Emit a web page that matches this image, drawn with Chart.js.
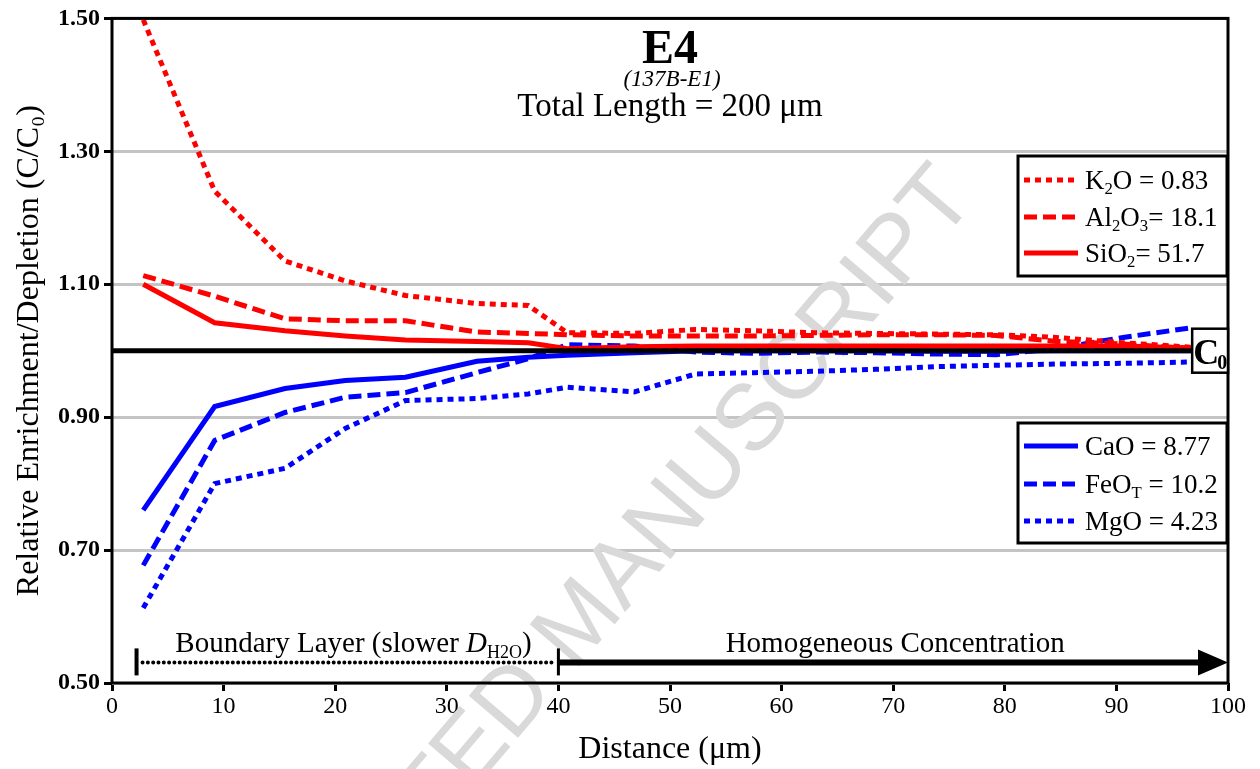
<!DOCTYPE html>
<html><head><meta charset="utf-8">
<script src="https://cdn.jsdelivr.net/npm/chart.js@4.4.0/dist/chart.umd.min.js"></script>
<style>html,body{margin:0;padding:0;background:#fff;}#wrap{position:relative;width:1260px;height:769px;}</style>
</head><body><div id="wrap"><canvas id="c" width="1260" height="769"></canvas></div>
<script>
// ---- data ----
const distance = [2.8, 9.2, 15.5, 20.9, 26.3, 32.7, 37.3, 40.8, 46.8, 52.3, 57.6, 63.0, 68.4, 73.8, 79.2, 84.6, 90.6, 96.9];
const k2o   = [1.498, 1.240, 1.135, 1.105, 1.083, 1.071, 1.068, 1.027, 1.026, 1.032, 1.030, 1.027, 1.026, 1.025, 1.024, 1.020, 1.012, 1.005];
const al2o3 = [1.113, 1.082, 1.048, 1.045, 1.045, 1.028, 1.026, 1.024, 1.022, 1.022, 1.022, 1.023, 1.024, 1.024, 1.023, 1.014, 1.010, 1.003];
const sio2  = [1.100, 1.042, 1.030, 1.022, 1.016, 1.014, 1.012, 1.003, 1.006, 1.007, 1.007, 1.007, 1.007, 1.007, 1.007, 1.007, 1.007, 1.004];
const cao   = [0.760, 0.916, 0.943, 0.955, 0.960, 0.984, 0.990, 0.993, 0.997, 1.000, 1.000, 1.000, 1.000, 0.999, 0.999, 1.000, 1.000, 1.000];
const feot  = [0.677, 0.865, 0.907, 0.930, 0.937, 0.967, 0.988, 1.009, 1.007, 0.998, 0.996, 0.998, 0.997, 0.995, 0.994, 1.003, 1.020, 1.035];
const mgo   = [0.613, 0.800, 0.823, 0.883, 0.925, 0.928, 0.935, 0.945, 0.938, 0.965, 0.967, 0.969, 0.972, 0.976, 0.978, 0.980, 0.981, 0.983];
const c0Distance = [0, 96.7];
const c0Value = [1.0, 1.0];
const yTicks = [0.50, 0.70, 0.90, 1.10, 1.30, 1.50];
const legendTop = [
  {name:'K2O', runs:[{t:'K'},{t:'2',sub:true},{t:'O = 0.83'}], color:'#ff0000', dash:[6,5]},
  {name:'Al2O3', runs:[{t:'Al'},{t:'2',sub:true},{t:'O'},{t:'3',sub:true},{t:'= 18.1'}], color:'#ff0000', dash:[13,6]},
  {name:'SiO2', runs:[{t:'SiO'},{t:'2',sub:true},{t:'= 51.7'}], color:'#ff0000', dash:[]}
];
const legendBottom = [
  {name:'CaO', runs:[{t:'CaO = 8.77'}], color:'#0000ff', dash:[]},
  {name:'FeOT', runs:[{t:'FeO'},{t:'T',sub:true},{t:' = 10.2'}], color:'#0000ff', dash:[13,6]},
  {name:'MgO', runs:[{t:'MgO = 4.23'}], color:'#0000ff', dash:[6,5]}
];
// boundary annotation positions (data units)
const boundaryStart = 2.2, boundaryEnd = 40, homogEnd = 100, annotY = 0.531;

const SERIF = '"Liberation Serif", "Times New Roman", serif';
const pts = arr => distance.map((x, i) => ({x, y: arr[i]}));

function runsWidth(ctx, runs, size, base) {
  let w = 0;
  for (const r of runs) {
    const fs = r.sub ? size * 0.62 : size;
    ctx.font = `${r.italic ? 'italic ' : ''}${base}${fs}px ${SERIF}`;
    w += ctx.measureText(r.t).width;
  }
  return w;
}
function drawRuns(ctx, x, y, runs, size, base) {
  ctx.textAlign = 'left'; ctx.textBaseline = 'alphabetic';
  let cx = x;
  for (const r of runs) {
    const fs = r.sub ? size * 0.62 : size;
    ctx.font = `${r.italic ? 'italic ' : ''}${base}${fs}px ${SERIF}`;
    ctx.fillText(r.t, cx, y + (r.sub ? size * 0.2 : 0));
    cx += ctx.measureText(r.t).width;
  }
  return cx;
}

const decor = {
  id: 'decor',
  beforeDatasetsDraw(chart) {
    const ctx = chart.ctx;
    // watermark
    ctx.save();
    ctx.fillStyle = '#d9d9d9';
    ctx.font = '94px "Liberation Sans", Arial, sans-serif';
    ctx.translate(574, 672);
    ctx.rotate(-49.5 * Math.PI / 180);
    const pre = 'ACCEPTED ';
    ctx.textAlign = 'left'; ctx.textBaseline = 'alphabetic';
    ctx.fillText(pre + 'MANUSCRIPT', -ctx.measureText(pre).width, 0);
    ctx.restore();
  },
  afterDatasetsDraw(chart) {
    const ctx = chart.ctx;
    const a = chart.chartArea;
    const xs = chart.scales.x, ys = chart.scales.y;
    ctx.save();
    // plot frame
    ctx.strokeStyle = '#000'; ctx.lineWidth = 3;
    ctx.strokeRect(a.left, a.top, a.right - a.left, a.bottom - a.top);

    // titles
    ctx.fillStyle = '#000';
    const cx = (a.left + a.right) / 2;
    ctx.textAlign = 'center'; ctx.textBaseline = 'alphabetic';
    ctx.font = `bold 48px ${SERIF}`;
    ctx.fillText('E4', cx, 63);
    ctx.font = `italic 23px ${SERIF}`;
    ctx.fillText('(137B-E1)', cx + 2, 86);
    ctx.font = `33px ${SERIF}`;
    ctx.fillText('Total Length = 200 \u03bcm', cx, 116);

    // legends
    const drawLegend = (items, box, rowsY) => {
      ctx.fillStyle = '#fff';
      ctx.fillRect(box[0], box[1], box[2] - box[0], box[3] - box[1]);
      ctx.strokeStyle = '#000'; ctx.lineWidth = 3; ctx.setLineDash([]);
      ctx.strokeRect(box[0], box[1], box[2] - box[0], box[3] - box[1]);
      items.forEach((it, i) => {
        const y = rowsY[i];
        ctx.strokeStyle = it.color; ctx.lineWidth = 5; ctx.setLineDash(it.dash);
        ctx.beginPath(); ctx.moveTo(box[0] + 6, y); ctx.lineTo(box[0] + 60, y); ctx.stroke();
        ctx.setLineDash([]);
        ctx.fillStyle = '#000';
        drawRuns(ctx, box[0] + 67, y + 9, it.runs, 27, '');
      });
    };
    drawLegend(legendTop, [1018, 156, 1227, 276], [180, 217, 253]);
    drawLegend(legendBottom, [1018, 423, 1227, 543], [446, 484, 521]);

    // C0 box
    ctx.fillStyle = '#fff';
    const bx = xs.getPixelForValue(c0Distance[1]) + 1, by = ys.getPixelForValue(1.0);
    ctx.fillRect(bx, by - 22, a.right - bx, 44);
    ctx.strokeStyle = '#000'; ctx.lineWidth = 2.5;
    ctx.strokeRect(bx, by - 22, a.right - bx, 44);
    ctx.fillStyle = '#000';
    ctx.font = `bold 36px ${SERIF}`;
    ctx.textAlign = 'left';
    ctx.fillText('C', bx + 1, by + 13);
    const cw = ctx.measureText('C').width;
    ctx.font = `bold 20px ${SERIF}`;
    ctx.fillText('0', bx + cw - 1, by + 18);

    // boundary layer annotation
    const x0 = xs.getPixelForValue(boundaryStart), x1 = xs.getPixelForValue(boundaryEnd), x2 = xs.getPixelForValue(homogEnd);
    const yA = ys.getPixelForValue(annotY);
    ctx.strokeStyle = '#000';
    ctx.lineWidth = 4; ctx.lineCap = 'round'; ctx.setLineDash([0.01, 5.3]);
    ctx.beginPath(); ctx.moveTo(x0 + 6, yA); ctx.lineTo(x1 - 3, yA); ctx.stroke();
    ctx.setLineDash([]); ctx.lineCap = 'butt';
    ctx.lineWidth = 4;
    ctx.beginPath(); ctx.moveTo(x0, yA - 14); ctx.lineTo(x0, yA + 13); ctx.stroke();
    ctx.lineWidth = 3;
    ctx.beginPath(); ctx.moveTo(x1, yA - 14); ctx.lineTo(x1, yA + 13); ctx.stroke();
    ctx.lineWidth = 6;
    ctx.beginPath(); ctx.moveTo(x1, yA); ctx.lineTo(x2 - 24, yA); ctx.stroke();
    ctx.fillStyle = '#000';
    ctx.beginPath(); ctx.moveTo(x2, yA); ctx.lineTo(x2 - 30, yA - 13); ctx.lineTo(x2 - 30, yA + 13); ctx.closePath(); ctx.fill();

    const blRuns = [{t:'Boundary Layer (slower '},{t:'D',italic:true},{t:'H2O',sub:true},{t:')'}];
    const wBL = runsWidth(ctx, blRuns, 29, '');
    drawRuns(ctx, (x0 + x1) / 2 - wBL / 2 + 6, yA - 10, blRuns, 29, '');
    ctx.font = `29px ${SERIF}`; ctx.textAlign = 'center';
    ctx.fillText('Homogeneous Concentration', (x1 + x2) / 2 + 2, yA - 10);
    ctx.restore();
  }
};

const lineDs = (label, arr, dash, color) => ({
  label, data: pts(arr), borderColor: color, backgroundColor: color,
  borderWidth: 5, borderDash: dash, pointRadius: 0, tension: 0, fill: false
});

new Chart(document.getElementById('c'), {
  type: 'line',
  data: {
    datasets: [
      {label: 'C0', data: c0Distance.map((x, i) => ({x, y: c0Value[i]})), borderColor: '#000', borderWidth: 5, pointRadius: 0, tension: 0, fill: false},
      lineDs('K2O', k2o, [6, 5], '#ff0000'),
      lineDs('Al2O3', al2o3, [13, 6], '#ff0000'),
      lineDs('SiO2', sio2, [], '#ff0000'),
      lineDs('CaO', cao, [], '#0000ff'),
      lineDs('FeOT', feot, [13, 6], '#0000ff'),
      lineDs('MgO', mgo, [6, 5], '#0000ff')
    ]
  },
  options: {
    responsive: false, animation: false, devicePixelRatio: 1,
    layout: {padding: {top: 17, right: 32, left: 0, bottom: 0}},
    plugins: {legend: {display: false}, tooltip: {enabled: false}, title: {display: false}},
    scales: {
      x: {
        type: 'linear', min: 0, max: 100,
        ticks: {stepSize: 10, color: '#000', font: {family: SERIF, size: 24}, padding: 1, maxRotation: 0},
        grid: {drawOnChartArea: false, drawTicks: true, tickLength: 8, tickColor: '#000', tickWidth: 3},
        border: {display: false},
        title: {display: true, text: 'Distance (\u03bcm)', color: '#000', font: {family: SERIF, size: 32}, padding: {top: 4, bottom: 0}},
        afterFit: s => { s.height = 86; }
      },
      y: {
        type: 'linear', min: 0.5, max: 1.5,
        afterBuildTicks: s => { s.ticks = yTicks.map(v => ({value: v})); },
        ticks: {color: '#000', font: {family: SERIF, size: 24, weight: 'bold'}, padding: 4, callback: v => Number(v).toFixed(2)},
        grid: {color: '#c4c4c4', lineWidth: 3, drawTicks: true, tickLength: 8, tickColor: '#000', tickWidth: 3},
        border: {display: false},
        title: {display: true, text: 'Relative Enrichment/Depletion (C/C\u2080)', color: '#000', font: {family: SERIF, size: 32}, padding: {top: 10, bottom: 0}},
        afterFit: s => { s.width = 112; }
      }
    }
  },
  plugins: [decor]
});
</script></body></html>
